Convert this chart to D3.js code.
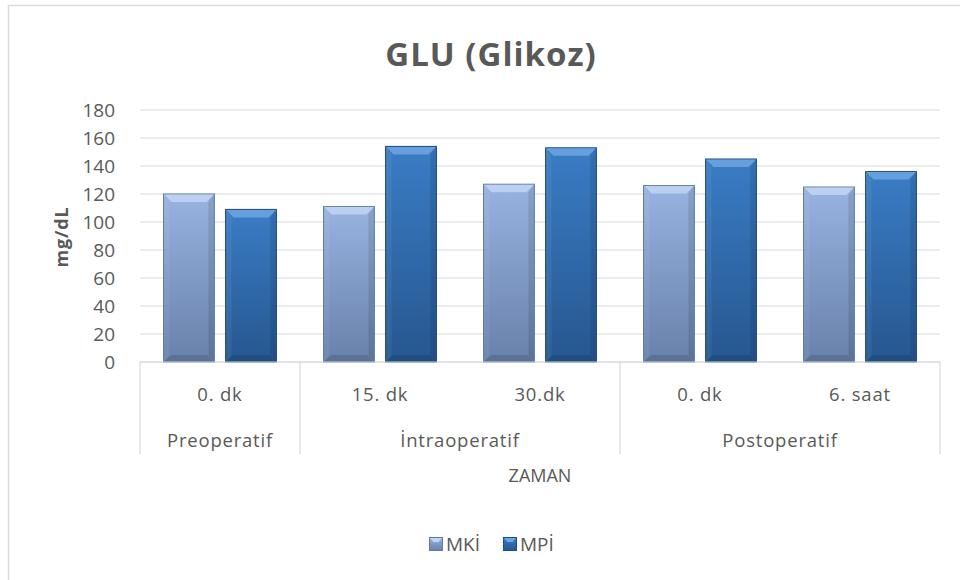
<!DOCTYPE html>
<html>
<head>
<meta charset="utf-8">
<script src="https://cdn.jsdelivr.net/npm/d3@7"></script>
<style>
  body { margin: 0; background: #fff; }
  text { font-family: "Open Sans", "Noto Sans", sans-serif; fill: #595959; }
</style>
</head>
<body>
<div id="chart"></div>
<script>
const groups = ['Preoperatif', 'İntraoperatif', 'Postoperatif'];
const categories = ['0. dk', '15. dk', '30.dk', '0. dk', '6. saat'];
const categoryGroup = [0, 1, 1, 2, 2];
const series = ['MKİ', 'MPİ'];
const mki = [120, 111, 127, 126, 125];
const mpi = [109, 154, 153, 145, 136];
const yTicks = [0, 20, 40, 60, 80, 100, 120, 140, 160, 180];

const W = 960, H = 580;
const margin = { top: 110, right: 20, bottom: 218, left: 140 };
const width = 940 - margin.left;
const height = 362 - margin.top;

const svg = d3.select('#chart').append('svg')
  .attr('width', W).attr('height', H);

// chart frame
svg.append('rect')
  .attr('x', 8.5).attr('y', 5.5)
  .attr('width', 990).attr('height', 620)
  .attr('fill', '#fff').attr('stroke', '#d9d9d9').attr('stroke-width', 1.5);

const defs = svg.append('defs');
const grads = [
  { id: 'g0', top: '#98b3e0', bottom: '#6781aa', bevel: '#c2d5f3', edge: '#5f7aa6' },
  { id: 'g1', top: '#3a7cc4', bottom: '#265790', bevel: '#6ea6e2', edge: '#1f4a7c' }
];
grads.forEach(c => {
  const lg = defs.append('linearGradient').attr('id', c.id)
    .attr('x1', 0).attr('y1', 0).attr('x2', 0).attr('y2', 1);
  lg.append('stop').attr('offset', '0%').attr('stop-color', c.top);
  lg.append('stop').attr('offset', '100%').attr('stop-color', c.bottom);
});

// title
svg.append('text')
  .attr('x', 491).attr('y', 66)
  .attr('text-anchor', 'middle')
  .attr('font-size', 33).attr('font-weight', 'bold')
  .attr('letter-spacing', 1)
  .text('GLU (Glikoz)');

const g = svg.append('g').attr('transform', `translate(${margin.left},${margin.top})`);

const y = d3.scaleLinear().domain([0, 180]).range([height, 0]);
const x = d3.scaleBand().domain(d3.range(categories.length)).range([0, width]);
const xs = d3.scaleBand().domain(series).range([0, x.bandwidth()])
  .paddingInner(0.18).paddingOuter(0.38);

// grid
g.append('g')
  .selectAll('line').data(yTicks).join('line')
  .attr('x1', 0).attr('x2', width)
  .attr('y1', d => y(d)).attr('y2', d => y(d))
  .attr('stroke', '#d9d9d9').attr('stroke-width', 1.2);

// y axis labels
const yAxis = g.append('g')
  .call(d3.axisLeft(y).tickValues(yTicks).tickSize(0).tickPadding(25));
yAxis.select('.domain').remove();
yAxis.selectAll('text')
  .attr('font-size', 19).attr('fill', '#595959')
  .style('font-family', '"Open Sans", sans-serif');

// y title
svg.append('text')
  .attr('transform', 'translate(68,237) rotate(-90)')
  .attr('text-anchor', 'middle')
  .attr('font-size', 18).attr('font-weight', 'bold')
  .attr('letter-spacing', 0.8)
  .text('mg/dL');

// bars
const valuesBy = [mki, mpi];
series.forEach((s, si) => {
  const c = grads[si];
  const bars = g.append('g').selectAll('g').data(valuesBy[si]).join('g')
    .attr('transform', (d, i) => `translate(${x(i) + xs(s)},0)`);
  const bw = xs.bandwidth();
  bars.append('rect')
    .attr('x', 0).attr('y', d => y(d))
    .attr('width', bw).attr('height', d => y(0) - y(d))
    .attr('fill', `url(#${c.id})`)
    .attr('stroke', c.edge).attr('stroke-width', 1);
  // bevel top
  bars.append('path')
    .attr('d', d => {
      const t = y(d), b = 8;
      return `M0.5,${t + 0.5}L${bw - 0.5},${t + 0.5}L${bw - b},${t + b}L${b},${t + b}Z`;
    })
    .attr('fill', c.bevel).attr('opacity', 0.85);
  // bevel bottom shade
  bars.append('path')
    .attr('d', d => {
      const bt = y(0), b = 7;
      return `M0.5,${bt}L${bw - 0.5},${bt}L${bw - b},${bt - b}L${b},${bt - b}Z`;
    })
    .attr('fill', '#000').attr('opacity', 0.12);
  // side shades
  bars.append('path')
    .attr('d', d => {
      const t = y(d);
      return `M${bw - 0.5},${t + 0.5}L${bw - 6},${t + 8}L${bw - 6},${y(0) - 7}L${bw - 0.5},${y(0)}Z`;
    })
    .attr('fill', '#000').attr('opacity', 0.1);
  bars.append('path')
    .attr('d', d => {
      const t = y(d);
      return `M0.5,${t + 0.5}L6,${t + 8}L6,${y(0) - 7}L0.5,${y(0)}Z`;
    })
    .attr('fill', '#fff').attr('opacity', 0.06);
});

// category axis
const axis = g.append('g').attr('transform', `translate(0,${height})`);
axis.append('line')
  .attr('x1', 0).attr('x2', width).attr('y1', 0).attr('y2', 0)
  .attr('stroke', '#d9d9d9').attr('stroke-width', 1.2);

axis.selectAll('text.cat').data(categories).join('text')
  .attr('class', 'cat')
  .attr('x', (d, i) => x(i) + x.bandwidth() / 2)
  .attr('y', 39)
  .attr('text-anchor', 'middle')
  .attr('font-size', 18.5)
  .attr('letter-spacing', 0.8)
  .text(d => d);

// group extents
const groupSpans = groups.map((grp, gi) => {
  const idx = categoryGroup.map((v, i) => v === gi ? i : -1).filter(i => i >= 0);
  return { name: grp, x0: x(idx[0]), x1: x(idx[idx.length - 1]) + x.bandwidth() };
});
const bounds = [0].concat(groupSpans.map(d => d.x1));
axis.selectAll('line.sep').data(bounds).join('line')
  .attr('class', 'sep')
  .attr('x1', d => d).attr('x2', d => d)
  .attr('y1', 0).attr('y2', 92)
  .attr('stroke', '#d9d9d9').attr('stroke-width', 1.2);

axis.selectAll('text.grp').data(groupSpans).join('text')
  .attr('class', 'grp')
  .attr('x', d => (d.x0 + d.x1) / 2)
  .attr('y', 85)
  .attr('text-anchor', 'middle')
  .attr('font-size', 18.5)
  .attr('letter-spacing', 0.8)
  .text(d => d.name);

// x title
svg.append('text')
  .attr('x', margin.left + width / 2).attr('y', 482)
  .attr('text-anchor', 'middle')
  .attr('font-size', 18)
  .text('ZAMAN');

// legend
const legend = svg.append('g').attr('transform', 'translate(429,537)');
const items = legend.selectAll('g').data(series).join('g')
  .attr('transform', (d, i) => `translate(${i * 74},0)`);
items.append('rect')
  .attr('x', 0.5).attr('y', 0.5)
  .attr('width', 13).attr('height', 13)
  .attr('fill', (d, i) => `url(#${grads[i].id})`)
  .attr('stroke', (d, i) => grads[i].edge);
items.append('path')
  .attr('d', 'M1,1L13,1L9.5,5L4.5,5Z')
  .attr('fill', (d, i) => grads[i].bevel);
items.append('text')
  .attr('x', 17).attr('y', 14)
  .attr('font-size', 19)
  .text(d => d);
</script>
</body>
</html>
